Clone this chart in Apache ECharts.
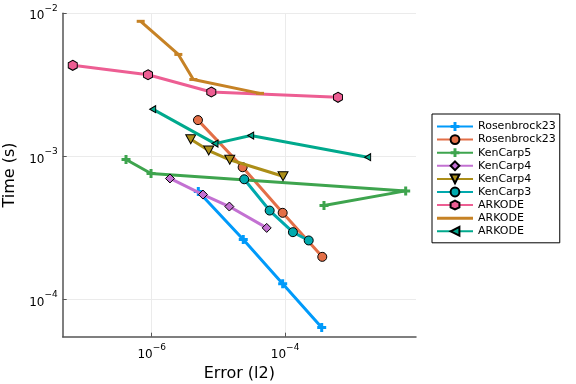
<!DOCTYPE html>
<html><head><meta charset="utf-8">
<script src="https://cdn.jsdelivr.net/npm/echarts@6/dist/echarts.min.js"></script>
<style>html,body{margin:0;padding:0;background:#fff}#c{width:576px;height:384px}</style>
</head><body><div id="c"></div>
<script>
// ---- data (log-log) ----
const seriesNames = ['Rosenbrock23','Rosenbrock23','KenCarp5','KenCarp4','KenCarp4','KenCarp3','ARKODE','ARKODE','ARKODE'];

const rosenbrock23aErr  = [5.0e-6, 2.36e-5, 9.2e-5, 3.54e-4];
const rosenbrock23aTime = [5.69e-4, 2.63e-4, 1.29e-4, 6.4e-5];

const rosenbrock23bErr  = [4.94e-6, 2.31e-5, 9.2e-5, 3.61e-4];
const rosenbrock23bTime = [1.795e-3, 8.41e-4, 4.04e-4, 1.99e-4];

const kenCarp5Err  = [4.12e-7, 9.77e-7, 6.43e-3, 3.83e-4];
const kenCarp5Time = [9.53e-4, 7.6e-4, 5.75e-4, 4.54e-4];

const kenCarp4aErr  = [1.88e-6, 5.87e-6, 1.46e-5, 5.3e-5];
const kenCarp4aTime = [7.02e-4, 5.42e-4, 4.47e-4, 3.17e-4];

const kenCarp4bErr  = [3.85e-6, 7.16e-6, 1.48e-5, 9.31e-5];
const kenCarp4bTime = [1.32e-3, 1.10e-3, 9.48e-4, 7.28e-4];

const kenCarp3Err  = [2.44e-5, 5.87e-5, 1.31e-4, 2.26e-4];
const kenCarp3Time = [6.93e-4, 4.19e-4, 2.96e-4, 2.59e-4];

const arkodeAErr  = [6.55e-8, 8.81e-7, 7.83e-6, 6.21e-4];
const arkodeATime = [4.33e-3, 3.72e-3, 2.82e-3, 2.59e-3];

const arkodeBErr  = [6.84e-7, 2.51e-6, 4.21e-6, 4.21e-5];
const arkodeBTime = [8.79e-3, 5.16e-3, 3.45e-3, 2.76e-3];

const arkodeCErr  = [1.035e-6, 8.89e-6, 3.05e-5, 1.73e-3];
const arkodeCTime = [2.14e-3, 1.23e-3, 1.40e-3, 9.89e-4];

const xTicks = [1e-6, 1e-4];
const yTicks = [1e-4, 1e-3, 1e-2];

// ---- styling ----
const FONT = 'DejaVu Sans';
const colors = ['#009AFA','#E36F47','#3EA44E','#C371D2','#AC8E18','#00A9AD','#ED5E93','#C68225','#00A98D'];
const PLUS = 'path://M-1,-3H1V-1H3V1H1V3H-1V1H-3V-1H-1Z';
const TRI_DOWN = 'path://M0,0L10,0L5,8.66Z';
const TRI_LEFT = 'path://M0,5L8.66,0L8.66,10Z';
const HEX = 'path://M0,-1L0.866,-0.5L0.866,0.5L0,1L-0.866,0.5L-0.866,-0.5Z';
const HBAR = 'path://M0,0H8V3H0Z';
const LINE_ICON = 'path://M0,0H36V3H0Z';
const markers = [
  {symbol: PLUS, size: 9, border: 0},
  {symbol: 'circle', size: 9, border: 1},
  {symbol: PLUS, size: 9, border: 0},
  {symbol: 'diamond', size: 9, border: 1},
  {symbol: TRI_DOWN, size: [10, 9], border: 1},
  {symbol: 'circle', size: 9, border: 1},
  {symbol: HEX, size: [9, 10], border: 1},
  {symbol: HBAR, size: 8, border: 0, keep: true},
  {symbol: TRI_LEFT, size: [6, 7], border: 1}
];
const errs  = [rosenbrock23aErr, rosenbrock23bErr, kenCarp5Err, kenCarp4aErr, kenCarp4bErr, kenCarp3Err, arkodeAErr, arkodeBErr, arkodeCErr];
const times = [rosenbrock23aTime, rosenbrock23bTime, kenCarp5Time, kenCarp4aTime, kenCarp4bTime, kenCarp3Time, arkodeATime, arkodeBTime, arkodeCTime];

const series = seriesNames.map((n, i) => ({
  name: n + '#' + i,
  type: 'line',
  data: errs[i].map((x, j) => [x, times[i][j]]),
  symbol: markers[i].symbol,
  symbolSize: markers[i].size,
  symbolKeepAspect: !!markers[i].keep,
  showSymbol: true,
  color: colors[i],
  lineStyle: {width: 3, color: colors[i]},
  itemStyle: {color: colors[i], borderColor: markers[i].border ? '#000' : colors[i], borderWidth: markers[i].border},
  z: 2 + i,
  animation: false
}));

const supFmt = v => {
  const e = Math.round(Math.log10(v));
  return '{b|10}{s|' + (e < 0 ? '\u2212' : '') + Math.abs(e) + '}';
};
const rich = {
  b: {fontSize: 12, fontFamily: FONT, color: '#000', lineHeight: 18, verticalAlign: 'bottom'},
  s: {fontSize: 9, fontFamily: FONT, color: '#000', lineHeight: 18, verticalAlign: 'top'}
};
const axisCommon = {
  type: 'log', logBase: 10,
  nameLocation: 'middle',
  nameTextStyle: {fontSize: 16, fontFamily: FONT, color: '#000'},
  axisLine: {show: true, onZero: false, lineStyle: {color: '#555', width: 1.5}},
  splitLine: {show: true, lineStyle: {color: '#ebebeb', width: 1}},
  minorTick: {show: false}, minorSplitLine: {show: false}
};

const chart = echarts.init(document.getElementById('c'), null, {renderer: 'canvas'});
chart.setOption({
  backgroundColor: '#fff',
  animation: false,
  grid: {left: 62.7, right: 160, top: 13.3, bottom: 47.3, containLabel: false, outerBoundsMode: 'none'},
  xAxis: Object.assign({}, axisCommon, {
    name: 'Error (l2)', nameGap: 27,
    min: 4.63e-8, max: 9.18e-3,
    axisTick: {show: true, inside: true, length: 4, customValues: xTicks, lineStyle: {color: '#555'}},
    axisLabel: {customValues: xTicks, formatter: supFmt, rich: rich, margin: 6}
  }),
  yAxis: Object.assign({}, axisCommon, {
    name: 'Time (s)', nameGap: 40,
    min: 5.51e-5, max: 1e-2,
    axisTick: {show: true, inside: true, length: 4, customValues: yTicks, lineStyle: {color: '#555'}},
    axisLabel: {customValues: yTicks, formatter: supFmt, rich: rich, margin: 5}
  }),
  legend: {
    orient: 'vertical', left: 432, top: 114,
    padding: [7, 4, 6, 4],
    itemWidth: 36, itemHeight: 11, itemGap: 2.1,
    borderColor: '#000', borderWidth: 1, backgroundColor: '#fff',
    textStyle: {fontSize: 11, fontFamily: FONT, color: '#000'},
    formatter: n => n.replace(/#\d+$/, ''),
    data: series.map((s, i) => markers[i].keep ? {name: s.name, icon: LINE_ICON} : s.name)
  },
  series: series
});
</script></body></html>
